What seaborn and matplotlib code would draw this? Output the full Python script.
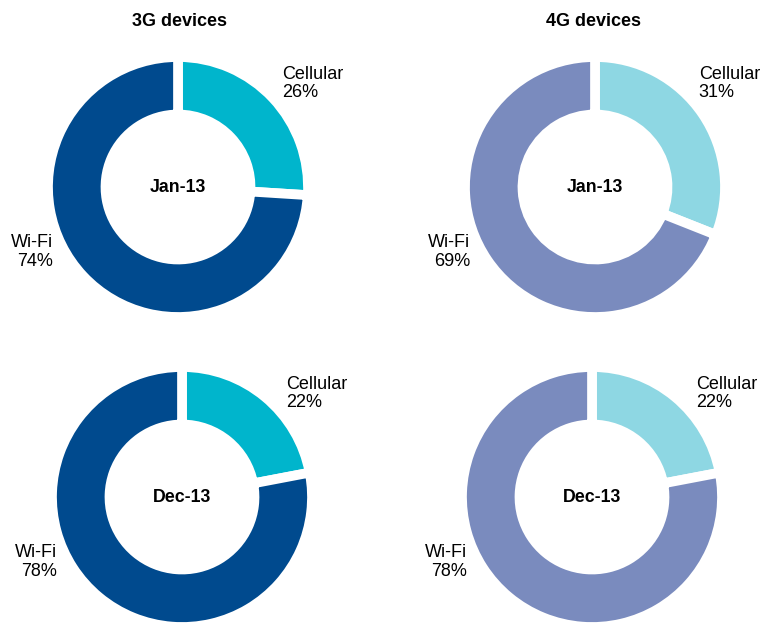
import matplotlib.pyplot as plt
import seaborn as sns

sns.set_theme(style="white")
plt.rcParams['font.family'] = ['Liberation Sans', 'DejaVu Sans']

# data
segments = ["Cellular", "Wi-Fi"]
share_3g_jan = [26, 74]
share_3g_dec = [22, 78]
share_4g_jan = [31, 69]
share_4g_dec = [22, 78]
periods = ["Jan-13", "Dec-13"]
groups = ["3G devices", "4G devices"]

colors_3g = ["#00B5CC", "#004A8E"]
colors_4g = ["#8ED7E3", "#7A8BBE"]

W, H = 762, 623
fig = plt.figure(figsize=(W / 100, H / 100), dpi=100)

# (values, colors, period, centre x px, centre y px from top)
panels = [
    (share_3g_jan, colors_3g, periods[0], 178, 187),
    (share_4g_jan, colors_4g, periods[0], 595, 187),
    (share_3g_dec, colors_3g, periods[1], 182, 497),
    (share_4g_dec, colors_4g, periods[1], 592, 497),
]
R = 125

for vals, cols, period, cx, cy in panels:
    ax = fig.add_axes([(cx - R) / W, (H - cy - R) / H, 2 * R / W, 2 * R / H])
    ax.pie(vals, colors=cols, startangle=90, counterclock=False, radius=1.04,
           wedgeprops=dict(width=0.46, edgecolor="white", linewidth=7))
    ax.set_xlim(-1, 1)
    ax.set_ylim(-1, 1)
    ax.set_aspect("equal")
    ax.axis("off")
    ax.text(0, 0, period, ha="center", va="center", fontsize=12.8,
            fontweight="bold", color="black")
    ax.text(0.83, 0.97, f"{segments[0]}\n{vals[0]}%", ha="left", va="top",
            fontsize=13, color="black", linespacing=1.1, clip_on=False)
    ax.text(-1.0, -0.52, f"{segments[1]}\n{vals[1]}%", ha="right", va="center",
            fontsize=13, color="black", linespacing=1.1, multialignment="right",
            clip_on=False)

fig.text(180 / W, 1 - 21 / H, groups[0], ha="center", va="center",
         fontsize=13, fontweight="bold", color="black")
fig.text(593 / W, 1 - 21 / H, groups[1], ha="center", va="center",
         fontsize=13, fontweight="bold", color="black")

fig.savefig("out.png", dpi=100)
